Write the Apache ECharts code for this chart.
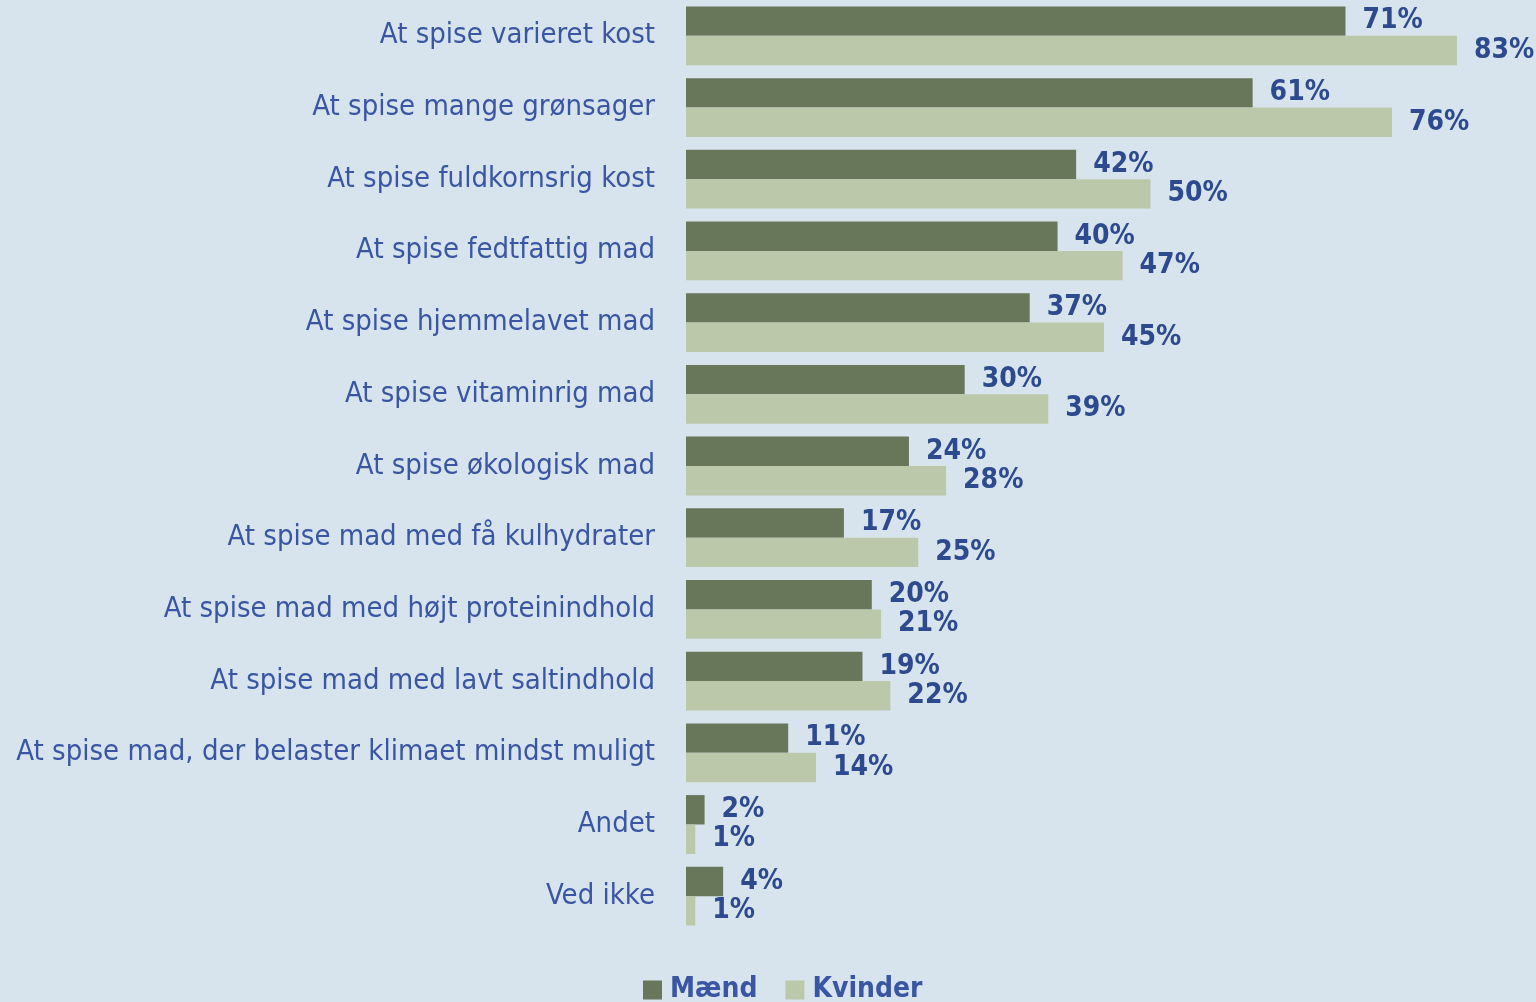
<!DOCTYPE html>
<html><head><meta charset="utf-8">
<script src="https://cdn.jsdelivr.net/npm/echarts@6/dist/echarts.min.js"></script>
<style>html,body{margin:0;padding:0;background:#d7e4ee;}#c{width:1536px;height:1002px;}</style>
</head><body><div id="c"></div>
<script>
const categories = [
  "At spise varieret kost",
  "At spise mange grønsager",
  "At spise fuldkornsrig kost",
  "At spise fedtfattig mad",
  "At spise hjemmelavet mad",
  "At spise vitaminrig mad",
  "At spise økologisk mad",
  "At spise mad med få kulhydrater",
  "At spise mad med højt proteinindhold",
  "At spise mad med lavt saltindhold",
  "At spise mad, der belaster klimaet mindst muligt",
  "Andet",
  "Ved ikke"
];
const maend = [71, 61, 42, 40, 37, 30, 24, 17, 20, 19, 11, 2, 4];
const kvinder = [83, 76, 50, 47, 45, 39, 28, 25, 21, 22, 14, 1, 1];
const seriesNames = ["Mænd", "Kvinder"];

const chart = echarts.init(document.getElementById('c'));
const fontFam = '"Liberation Sans Narrow", "DejaVu Sans Condensed", sans-serif';
const valLabel = {
  show: true, position: 'right', distance: 17,
  formatter: p => p.value + '%',
  color: '#2d4a8e', fontSize: 28, fontWeight: 'bold', fontFamily: fontFam
};
chart.setOption({
  backgroundColor: '#d7e4ee',
  animation: false,
  grid: { left: 686, right: 14, top: 0, height: 932, containLabel: false, outerBoundsMode: 'none' },
  xAxis: { type: 'value', min: 0, max: 90, show: false },
  yAxis: {
    type: 'category', data: categories, inverse: true,
    axisLine: { show: false }, axisTick: { show: false },
    axisLabel: { color: '#3a56a3', fontSize: 29, fontFamily: fontFam, margin: 31 }
  },
  legend: {
    data: seriesNames, top: 971, left: 638,
    itemWidth: 19, itemHeight: 19, itemGap: 28,
    icon: 'rect',
    textStyle: { color: '#3a56a3', fontSize: 28, fontWeight: 'bold', fontFamily: fontFam, padding: [0,0,0,3] }
  },
  series: [
    { name: seriesNames[0], type: 'bar', data: maend, barGap: '0%', barCategoryGap: '18%',
      itemStyle: { color: '#68765a' }, label: valLabel },
    { name: seriesNames[1], type: 'bar', data: kvinder, barGap: '0%', barCategoryGap: '18%',
      itemStyle: { color: '#bbc8aa' }, label: valLabel }
  ]
});
</script></body></html>
